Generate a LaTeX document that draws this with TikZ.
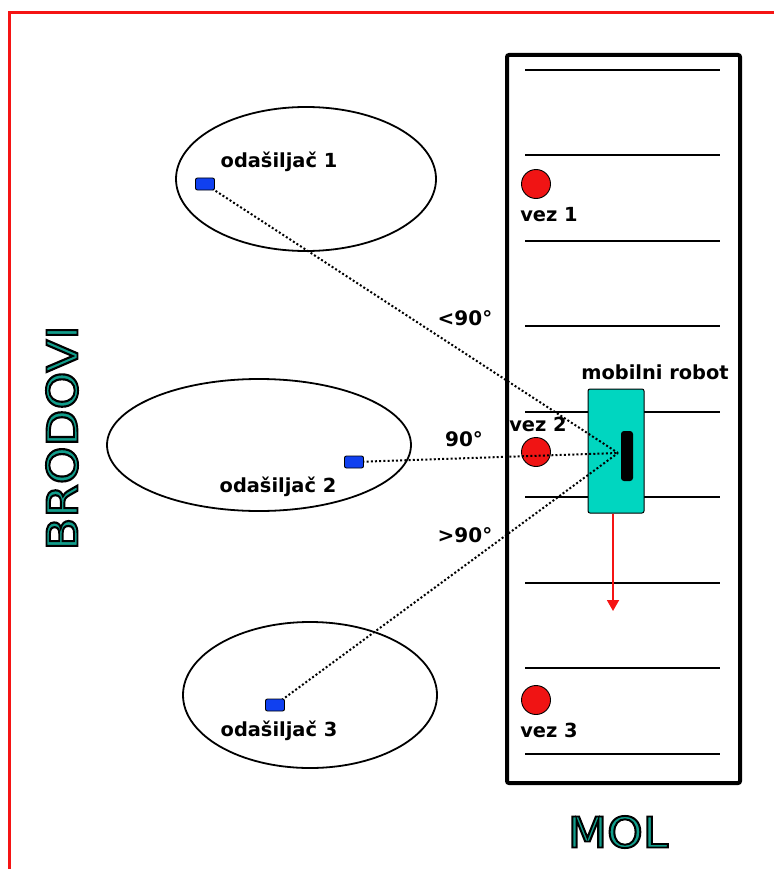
\documentclass[tikz,border=0pt]{standalone}
\usepackage{fontspec}
\setmainfont{DejaVu Sans}
\usetikzlibrary{arrows.meta,shapes.geometric}
\definecolor{bordred}{RGB}{245,20,20}
\definecolor{vezred}{RGB}{240,20,20}
\definecolor{robteal}{RGB}{0,214,192}
\definecolor{titteal}{RGB}{18,158,140}
\definecolor{txblue}{RGB}{16,64,240}
\newcommand{\outlinedtext}[1]{\textcolor{titteal}{\special{pdf:literal direct 0 0 0 RG 2 Tr 1.9 w}#1\special{pdf:literal direct 0 Tr}}}
\begin{document}
\begin{tikzpicture}[x=1pt,y=-1pt,
  lbl/.style={font=\bfseries\fontsize{19.4}{21}\selectfont, inner sep=0pt},
  ang/.style={font=\bfseries\fontsize{20}{21}\selectfont, inner sep=0pt},
  ship/.style={draw=black, line width=1.8pt},
  lane/.style={draw=black, line width=2pt},
  vez/.style={circle, draw=black, line width=0.9pt, fill=vezred, minimum size=29pt, inner sep=0pt},
  tx/.style={rectangle, rounded corners=2pt, draw=black, line width=0.9pt, fill=txblue, minimum width=19pt, minimum height=12pt, inner sep=0pt},
  beam/.style={line width=2pt, dash pattern=on 2pt off 2.2pt},
  title/.style={font=\fontsize{42.5}{44}\selectfont, inner sep=0pt}]
\useasboundingbox (0,0) rectangle (774,869);
% red frame
\draw[bordred, line width=3pt] (9,869) -- (9,12.5) -- (774,12.5);
% mol
\node[draw=black, line width=4pt, rounded corners=2pt, minimum width=233pt, minimum height=728pt, inner sep=0pt] (mol) at (623.5,419) {};
\foreach \yy [count=\i] in {70,155,241,326,412,497,583,668,754}
  \draw[lane] (525,\yy) coordinate (la\i) -- (720,\yy) coordinate (lb\i);
% ships
\node[ship, ellipse, minimum width=260pt, minimum height=144pt] (s1) at (306,179) {};
\node[ship, ellipse, minimum width=304pt, minimum height=132pt] (s2) at (259,445) {};
\node[ship, ellipse, minimum width=254pt, minimum height=146pt] (s3) at (310,695) {};
% vez
\node[vez] (v1) at (536,184) {};
\node[vez] (v2) at (536,452) {};
\node[vez] (v3) at (536,700) {};
\node[lbl] (lv1) at (549,215) {vez 1};
\node[lbl] (lv2) at (538,424) {vez 2};
\node[lbl] (lv3) at (549,730) {vez 3};
% robot
\node[draw=black, line width=1pt, rounded corners=2pt, fill=robteal, minimum width=56pt, minimum height=124pt, inner sep=0pt] (rob) at (616,451) {};
\node[fill=black, rounded corners=3pt, minimum width=12pt, minimum height=50pt, inner sep=0pt] (sens) at (627,456) {};
\node[lbl] (lrob) at (655,372) {mobilni robot};
\coordinate (c) at (618,453);
\coordinate (arrend) at (613,611);
\draw[bordred, line width=1.8pt, -{Triangle[length=11pt,width=12pt]}] (rob.south -| arrend) -- (arrend);
% transmitters
\coordinate (t1) at (205,184);
\coordinate (t2) at (354,462);
\coordinate (t3) at (275,705);
\draw[beam] (t1) -- (c);
\draw[beam] (t2) -- (c);
\draw[beam] (t3) -- (c);
\node[tx] (x1) at (t1) {};
\node[tx] (x2) at (t2) {};
\node[tx] (x3) at (t3) {};
\node[lbl] (l1) at (279,162) {odašiljač 1};
\node[lbl] (l2) at (278,487) {odašiljač 2};
\node[lbl] (l3) at (279,731) {odašiljač 3};
% angles
\node[ang] (a1) at (465,318) {<90°};
\node[ang] (a2) at (464,439) {90°};
\node[ang] (a3) at (465,535) {>90°};
% titles
\node[title, rotate=90] (brod) at (62,438) {\scalebox{1.13}[1]{\outlinedtext{BRODOVI}}};
\node[title] (moltxt) at (618,832) {\scalebox{1.07}[1]{\outlinedtext{MOL}}};
\end{tikzpicture}
\end{document}
